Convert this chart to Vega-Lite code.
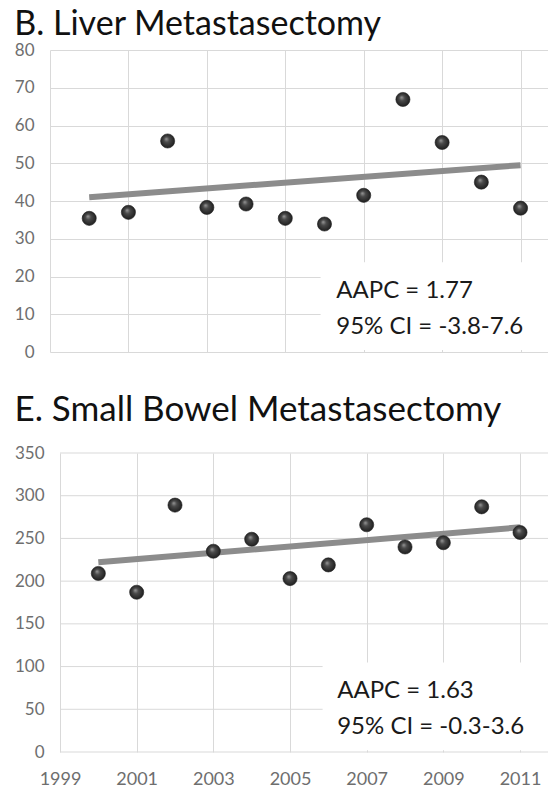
{
  "$schema": "https://vega.github.io/schema/vega-lite/v6.json",
  "background": "white",
  "padding": {"left": 14, "top": 8, "right": 0, "bottom": 0},
  "spacing": 33,
  "datasets": {
    "liver": [
      {"year": 2000, "value": 35.4},
      {"year": 2001, "value": 37.0},
      {"year": 2002, "value": 55.9},
      {"year": 2003, "value": 38.3},
      {"year": 2004, "value": 39.2},
      {"year": 2005, "value": 35.4},
      {"year": 2006, "value": 33.9},
      {"year": 2007, "value": 41.5},
      {"year": 2008, "value": 66.9},
      {"year": 2009, "value": 55.5},
      {"year": 2010, "value": 45.0},
      {"year": 2011, "value": 38.1}
    ],
    "liverTrend": [
      {"year": 2000, "value": 41.0},
      {"year": 2011, "value": 49.5}
    ],
    "liverNote": [
      {"note": "AAPC = 1.77\n95% CI = -3.8-7.6"}
    ],
    "bowel": [
      {"year": 2000, "value": 209},
      {"year": 2001, "value": 187},
      {"year": 2002, "value": 289},
      {"year": 2003, "value": 235},
      {"year": 2004, "value": 249},
      {"year": 2005, "value": 203},
      {"year": 2006, "value": 219},
      {"year": 2007, "value": 266},
      {"year": 2008, "value": 240},
      {"year": 2009, "value": 245},
      {"year": 2010, "value": 287},
      {"year": 2011, "value": 257}
    ],
    "bowelTrend": [
      {"year": 2000, "value": 222},
      {"year": 2011, "value": 263}
    ],
    "bowelNote": [
      {"note": "AAPC = 1.63\n95% CI = -0.3-3.6"}
    ],
    "bowelTicks": [
      {"tick": 0}, {"tick": 50}, {"tick": 100}, {"tick": 150},
      {"tick": 200}, {"tick": 250}, {"tick": 300}, {"tick": 350}
    ]
  },
  "vconcat": [
    {
      "title": {"text": "B. Liver Metastasectomy", "offset": -1, "fontSize": 34},
      "width": 498,
      "height": 302,
      "layer": [
        {
          "data": {"name": "liverTrend"},
          "mark": {"type": "line", "color": "#8c8c8c", "strokeWidth": 6, "strokeCap": "butt"},
          "encoding": {
            "x": {"field": "year", "type": "quantitative", "scale": {"domain": [1999, 2011.7], "nice": false, "zero": false},
                  "axis": {"values": [1999, 2001, 2003, 2005, 2007, 2009, 2011], "labels": false}},
            "y": {"field": "value", "type": "quantitative", "scale": {"domain": [0, 80], "nice": false},
                  "axis": {"values": [0, 10, 20, 30, 40, 50, 60, 70, 80]}}
          }
        },
        {
          "data": {"name": "liver"},
          "mark": {"type": "point", "filled": true, "size": 200, "opacity": 1, "stroke": "#1c1c1c", "strokeWidth": 0.6,
                   "fill": {"gradient": "radial", "x1": 0.4, "y1": 0.35, "r1": 0, "x2": 0.5, "y2": 0.5, "r2": 0.55,
                            "stops": [{"offset": 0, "color": "#9a9a9a"}, {"offset": 0.35, "color": "#4a4a4a"}, {"offset": 1, "color": "#1a1a1a"}]}},
          "encoding": {
            "x": {"field": "year", "type": "quantitative",
                  "axis": {"values": [1999, 2001, 2003, 2005, 2007, 2009, 2011], "labels": false}},
            "y": {"field": "value", "type": "quantitative",
                  "axis": {"values": [0, 10, 20, 30, 40, 50, 60, 70, 80]}}
          }
        },
        {
          "data": {"name": "liverNote"},
          "mark": {"type": "rect", "color": "white"},
          "encoding": {
            "x": {"datum": 2005.9, "axis": {"values": [1999, 2001, 2003, 2005, 2007, 2009, 2011], "labels": false}},
            "x2": {"datum": 2011.7},
            "y": {"datum": 23.8, "axis": {"values": [0, 10, 20, 30, 40, 50, 60, 70, 80]}},
            "y2": {"datum": 0.5}
          }
        },
        {
          "data": {"name": "liverNote"},
          "mark": {"type": "text", "align": "left", "baseline": "alphabetic", "lineBreak": "\n", "lineHeight": 36,
                   "font": "Lato", "fontSize": 24, "color": "#1a1a1a"},
          "encoding": {
            "x": {"datum": 2006.3, "axis": {"values": [1999, 2001, 2003, 2005, 2007, 2009, 2011], "labels": false}},
            "y": {"datum": 14.2, "axis": {"values": [0, 10, 20, 30, 40, 50, 60, 70, 80]}},
            "text": {"field": "note"}
          }
        }
      ]
    },
    {
      "title": {"text": "E. Small Bowel Metastasectomy", "offset": 16, "fontSize": 35},
      "width": 498,
      "height": 299,
      "layer": [
        {
          "data": {"name": "bowelTicks"},
          "mark": {"type": "rule", "color": "#d9d9d9", "strokeWidth": 1},
          "encoding": {
            "x": {"datum": 1999, "scale": {"domain": [1998.739, 2011.73], "nice": false, "zero": false},
                  "axis": {"values": [1999, 2001, 2003, 2005, 2007, 2009, 2011], "format": "d"}},
            "x2": {"datum": 2011.73},
            "y": {"field": "tick", "type": "quantitative", "scale": {"domain": [0, 350], "nice": false},
                  "axis": {"values": [0, 50, 100, 150, 200, 250, 300, 350], "grid": false, "offset": -10}}
          }
        },
        {
          "data": {"name": "bowelTrend"},
          "mark": {"type": "line", "color": "#8c8c8c", "strokeWidth": 6, "strokeCap": "butt"},
          "encoding": {
            "x": {"field": "year", "type": "quantitative",
                  "axis": {"values": [1999, 2001, 2003, 2005, 2007, 2009, 2011], "format": "d"}},
            "y": {"field": "value", "type": "quantitative",
                  "axis": {"values": [0, 50, 100, 150, 200, 250, 300, 350], "grid": false, "offset": -10}}
          }
        },
        {
          "data": {"name": "bowel"},
          "mark": {"type": "point", "filled": true, "size": 200, "opacity": 1, "stroke": "#1c1c1c", "strokeWidth": 0.6,
                   "fill": {"gradient": "radial", "x1": 0.4, "y1": 0.35, "r1": 0, "x2": 0.5, "y2": 0.5, "r2": 0.55,
                            "stops": [{"offset": 0, "color": "#9a9a9a"}, {"offset": 0.35, "color": "#4a4a4a"}, {"offset": 1, "color": "#1a1a1a"}]}},
          "encoding": {
            "x": {"field": "year", "type": "quantitative",
                  "axis": {"values": [1999, 2001, 2003, 2005, 2007, 2009, 2011], "format": "d"}},
            "y": {"field": "value", "type": "quantitative",
                  "axis": {"values": [0, 50, 100, 150, 200, 250, 300, 350], "grid": false, "offset": -10}}
          }
        },
        {
          "data": {"name": "bowelNote"},
          "mark": {"type": "rect", "color": "white"},
          "encoding": {
            "x": {"datum": 2005.85, "axis": {"values": [1999, 2001, 2003, 2005, 2007, 2009, 2011], "format": "d"}},
            "x2": {"datum": 2011.73},
            "y": {"datum": 104.7, "axis": {"values": [0, 50, 100, 150, 200, 250, 300, 350], "grid": false, "offset": -10}},
            "y2": {"datum": 2}
          }
        },
        {
          "data": {"name": "bowelNote"},
          "mark": {"type": "text", "align": "left", "baseline": "alphabetic", "lineBreak": "\n", "lineHeight": 36,
                   "font": "Lato", "fontSize": 24, "color": "#1a1a1a"},
          "encoding": {
            "x": {"datum": 2006.23, "axis": {"values": [1999, 2001, 2003, 2005, 2007, 2009, 2011], "format": "d"}},
            "y": {"datum": 63, "axis": {"values": [0, 50, 100, 150, 200, 250, 300, 350], "grid": false, "offset": -10}},
            "text": {"field": "note"}
          }
        }
      ]
    }
  ],
  "config": {
    "view": {"stroke": null},
    "font": "Lato",
    "axis": {
      "title": null,
      "domain": false,
      "ticks": false,
      "grid": true,
      "gridColor": "#d9d9d9",
      "gridWidth": 1,
      "labelColor": "#6e6e6e",
      "labelFont": "Lato",
      "labelFontSize": 17,
      "labelPadding": 16,
      "labelOverlap": false
    },
    "axisX": {"labelPadding": 18, "labelFontSize": 18},
    "title": {
      "font": "Lato",
      "fontWeight": "normal",
      "color": "#111111",
      "anchor": "start",
      "frame": "bounds"
    }
  }
}
